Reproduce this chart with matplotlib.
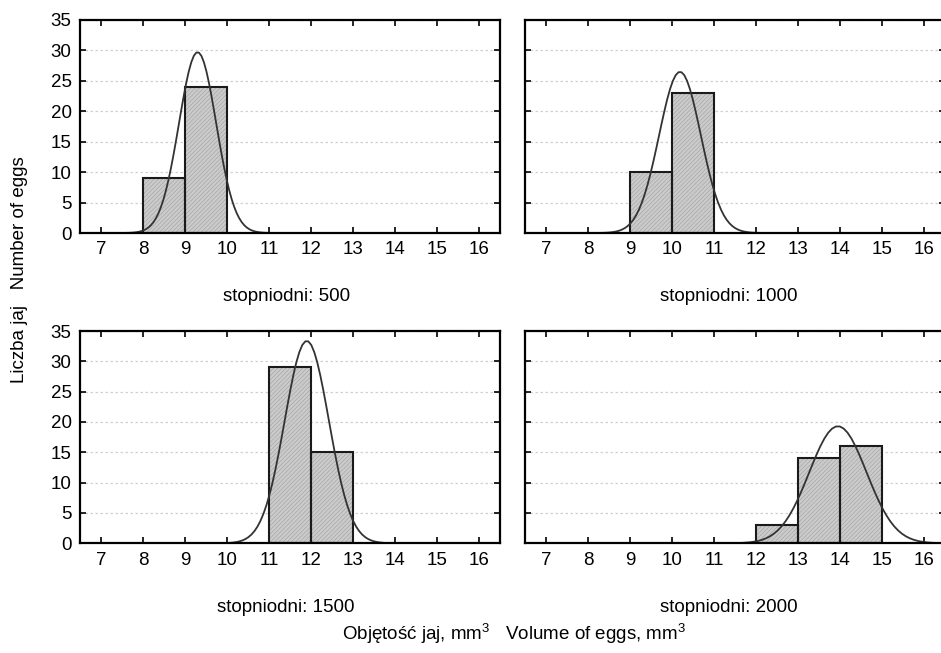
import numpy as np
import matplotlib
matplotlib.use("Agg")
import matplotlib.pyplot as plt

plt.rcParams['font.family'] = ['Liberation Sans', 'DejaVu Sans']
plt.rcParams['mathtext.fontset'] = 'custom'
plt.rcParams['mathtext.rm'] = 'Liberation Sans'
plt.rcParams['hatch.linewidth'] = 0.4

# data
titles = ['stopniodni: 500', 'stopniodni: 1000', 'stopniodni: 1500', 'stopniodni: 2000']
bin_left = [[8, 9], [9, 10], [11, 12], [12, 13, 14]]
counts = [[9, 24], [10, 23], [29, 15], [3, 14, 16]]
# fitted normal curves (mean, sd), scaled by N * bin width
fit_mean = [9.3, 10.19, 11.9, 13.95]
fit_sd = [0.443, 0.497, 0.526, 0.682]
xticks = list(range(7, 17))
yticks = [0, 5, 10, 15, 20, 25, 30, 35]

fig = plt.figure(figsize=(9.41, 6.53), dpi=100)
W, H = 941, 653
# axes boxes in pixels (left, top, right, bottom)
boxes = [(80, 20, 500, 233), (525, 20, 945, 233),
         (80, 331, 500, 543.3), (525, 331, 945, 543.3)]

fs = 13.5
for i, (l, t, r, b) in enumerate(boxes):
    ax = fig.add_axes([l / W, 1 - b / H, (r - l) / W, (b - t) / H])
    ax.set_xlim(6.5, 16.5)
    ax.set_ylim(0, 35)
    ax.set_xticks(xticks)
    ax.set_yticks(yticks)
    ax.yaxis.grid(True, linestyle=(0, (2, 2)), color='#d0d0d0', linewidth=0.9)
    ax.set_axisbelow(True)

    # bars: hatched fill then black outline
    ax.bar(bin_left[i], counts[i], width=1, align='edge', color='#cbcbcb',
           edgecolor='#a0a0a0', hatch='////////', linewidth=0, zorder=2)
    ax.bar(bin_left[i], counts[i], width=1, align='edge', fill=False,
           edgecolor='#1a1a1a', linewidth=1.5, zorder=3)

    n = sum(counts[i])
    xs = np.linspace(fit_mean[i] - 4 * fit_sd[i], fit_mean[i] + 4 * fit_sd[i], 60)
    ys = n / (fit_sd[i] * np.sqrt(2 * np.pi)) * np.exp(-0.5 * ((xs - fit_mean[i]) / fit_sd[i]) ** 2)
    ax.plot(xs, ys, color='#333333', linewidth=1.3, zorder=4)

    ax.tick_params(direction='in', top=True, right=True, length=4, width=1.2,
                   labelsize=fs, pad=6)
    if i % 2 == 1:
        ax.tick_params(labelleft=False)
    for s in ax.spines.values():
        s.set_linewidth(1.6)
        s.set_zorder(5)

    cx = (l + min(r, W)) / 2 / W - 0.004
    cy = 1 - (297 if i < 2 else 607) / H
    fig.text(cx, cy, titles[i], ha='center', va='center', fontsize=fs)

fig.text(514 / W, 1 - 634 / H, 'Objętość jaj, mm$^{3}$   Volume of eggs, mm$^{3}$',
         ha='center', va='center', fontsize=fs)
fig.text(20 / W, 1 - 270 / H, 'Liczba jaj   Number of eggs', rotation=90,
         ha='center', va='center', fontsize=fs)

fig.savefig('out.png', dpi=100)
